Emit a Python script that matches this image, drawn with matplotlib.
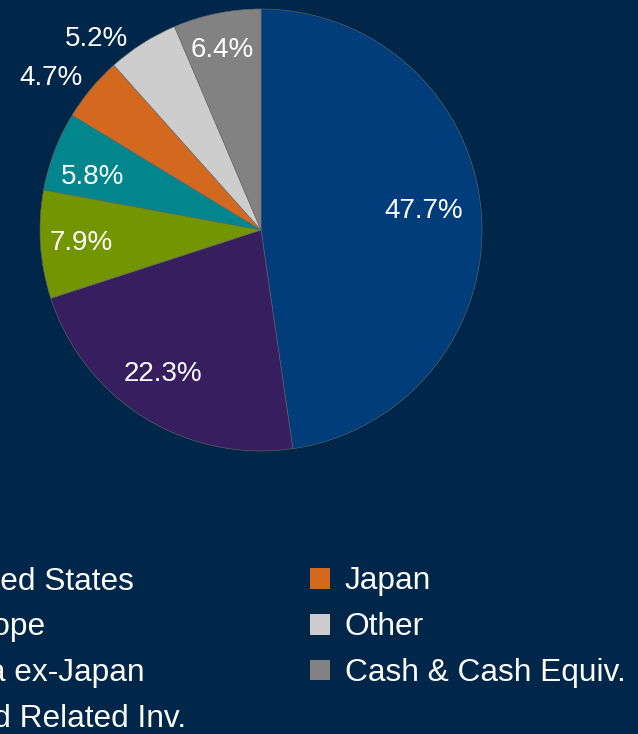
import matplotlib
matplotlib.use("Agg")
import matplotlib.pyplot as plt
import numpy as np

categories = ["United States", "Europe", "Asia ex-Japan", "Gold Related Inv.",
              "Japan", "Other", "Cash & Cash Equiv."]
values = [47.7, 22.3, 7.9, 5.8, 4.7, 5.2, 6.4]
colors = ["#003D7A", "#371F5F", "#739500", "#00868C", "#D2691E", "#CDCDCD", "#828282"]
# label placement (style): radial distance and angular offset from wedge middle
label_dist = [0.744, 0.778, 0.816, 0.803, 1.18, 1.15, 0.846]
label_dang = [3.4, -3.0, -0.5, 2.4, 3.4, 7.9, 0.5]

BG = "#00264A"
plt.rcParams['font.family'] = ['Liberation Sans', 'DejaVu Sans']

W, H = 638, 734
fig = plt.figure(figsize=(W / 100, H / 100), dpi=100, facecolor=BG)
cx, cy, R = 261, 230, 221
ax = fig.add_axes([(cx - R) / W, (H - cy - R) / H, 2 * R / W, 2 * R / H])
ax.set_facecolor(BG)
wedges, _ = ax.pie(values, colors=colors, startangle=90, counterclock=False,
                   radius=1, wedgeprops=dict(linewidth=0.4, edgecolor="#6a6a6a"))
ax.set_xlim(-1, 1)
ax.set_ylim(-1, 1)
ax.set_aspect('equal')
ax.axis('off')

half_cap = 10.0 / R
for w, v, d, da in zip(wedges, values, label_dist, label_dang):
    ang = np.deg2rad((w.theta1 + w.theta2) / 2 + da)
    ax.text(d * np.cos(ang), d * np.sin(ang) - half_cap, f"{v:.1f}%", ha='center',
            va='baseline', color='white', fontsize=20, clip_on=False)

fs = 22.8
common = dict(frameon=False, fontsize=fs, handlelength=0.63, handleheight=0.63,
              handletextpad=0.47, labelspacing=0.5, borderpad=0, borderaxespad=0,
              loc='upper left', labelcolor='white')
top = 1 - 566.5 / H
leg1 = fig.legend(wedges[:4], categories[:4], bbox_to_anchor=(-91 / W, top), **common)
leg2 = fig.legend(wedges[4:], categories[4:], bbox_to_anchor=(310 / W, top), **common)
for leg in (leg1, leg2):
    for h in leg.legend_handles:
        h.set_linewidth(0)

fig.savefig("out.png", dpi=100, facecolor=BG)
